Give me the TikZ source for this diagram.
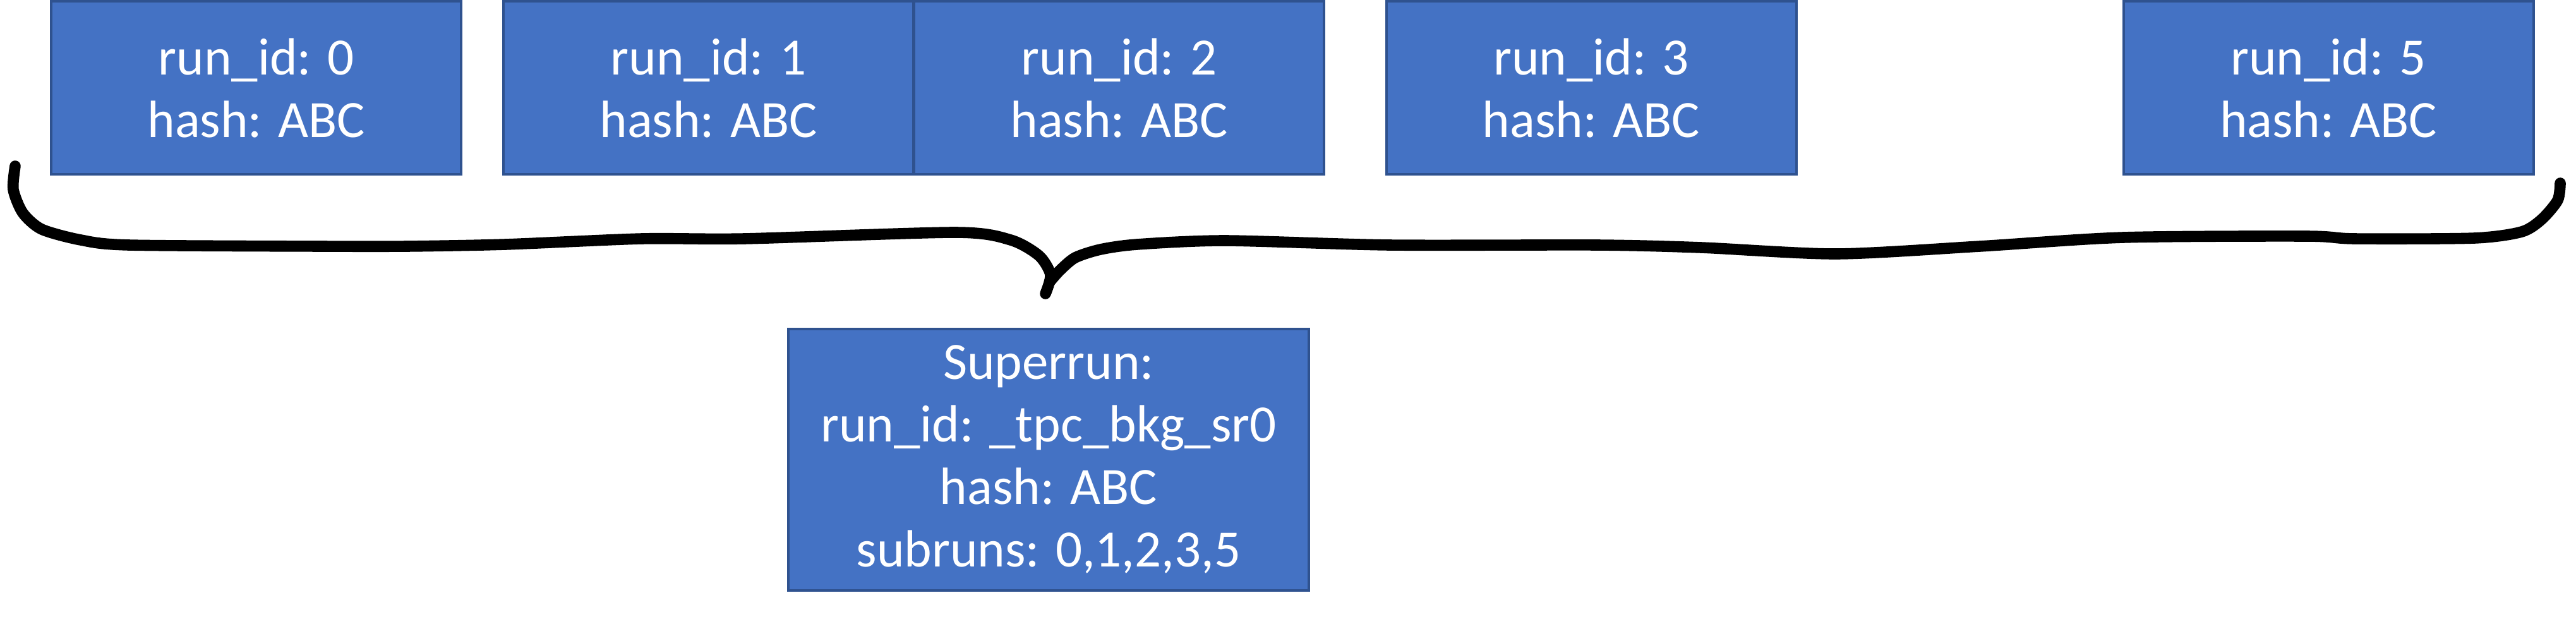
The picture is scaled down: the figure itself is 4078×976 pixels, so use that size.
\documentclass[tikz,border=0pt]{standalone}
\usepackage{fontspec}
\setmainfont{Carlito}
\definecolor{boxfill}{HTML}{4472C4}
\definecolor{boxline}{HTML}{2F528F}
\tikzset{
  runbox/.style={draw=boxline, fill=boxfill, line width=1pt, rectangle,
    minimum width=162.25pt, minimum height=68.5pt, inner sep=0pt,
    text=white, align=center,
    font=\fontsize{20.75pt}{24.75pt}\selectfont},
  superbox/.style={runbox, minimum width=206pt, minimum height=103.6pt},
  bracestroke/.style={draw=black, line width=4.4pt, line cap=round, line join=round}
}
\begin{document}
\begin{tikzpicture}[x=0.25pt, y=-0.25pt]
\useasboundingbox (0,0) rectangle (4078,976);
% run boxes
\node[runbox] (r0) at (405.5,139) {run\_id: 0\\hash: ABC};
\node[runbox] (r1) at (1121.5,139) {run\_id: 1\\hash: ABC};
\node[runbox] (r2) at (1771.5,139) {run\_id: 2\\hash: ABC};
\node[runbox] (r3) at (2519,139) {run\_id: 3\\hash: ABC};
\node[runbox] (r5) at (3686,139) {run\_id: 5\\hash: ABC};
% superrun box
\node[superbox] (sr) at (1660,727.75) {Superrun:\\run\_id: \_tpc\_bkg\_sr0\\hash: ABC\\subruns: 0,1,2,3,5};
% hand-drawn brace
\draw[bracestroke] plot[smooth, tension=0.45] coordinates {
  (24,263) (21,300) (36,337) (66,363) (128,380) (204,388) (510,390)
  (643,390) (800,387) (1016,378) (1178,378) (1513,368) (1600,380)
  (1645,405) (1663,435) (1655,465)};
\draw[bracestroke] plot[smooth, tension=0.45] coordinates {
  (1662,446) (1678,428) (1702,408) (1742,395) (1800,387) (1940,381)
  (2200,388) (2529,388) (2693,392) (2907,402) (3134,390) (3361,376)
  (3652,374) (3727,378) (3917,377) (3992,367) (4024,347) (4049,317)
  (4053,290)};
\end{tikzpicture}
\end{document}
